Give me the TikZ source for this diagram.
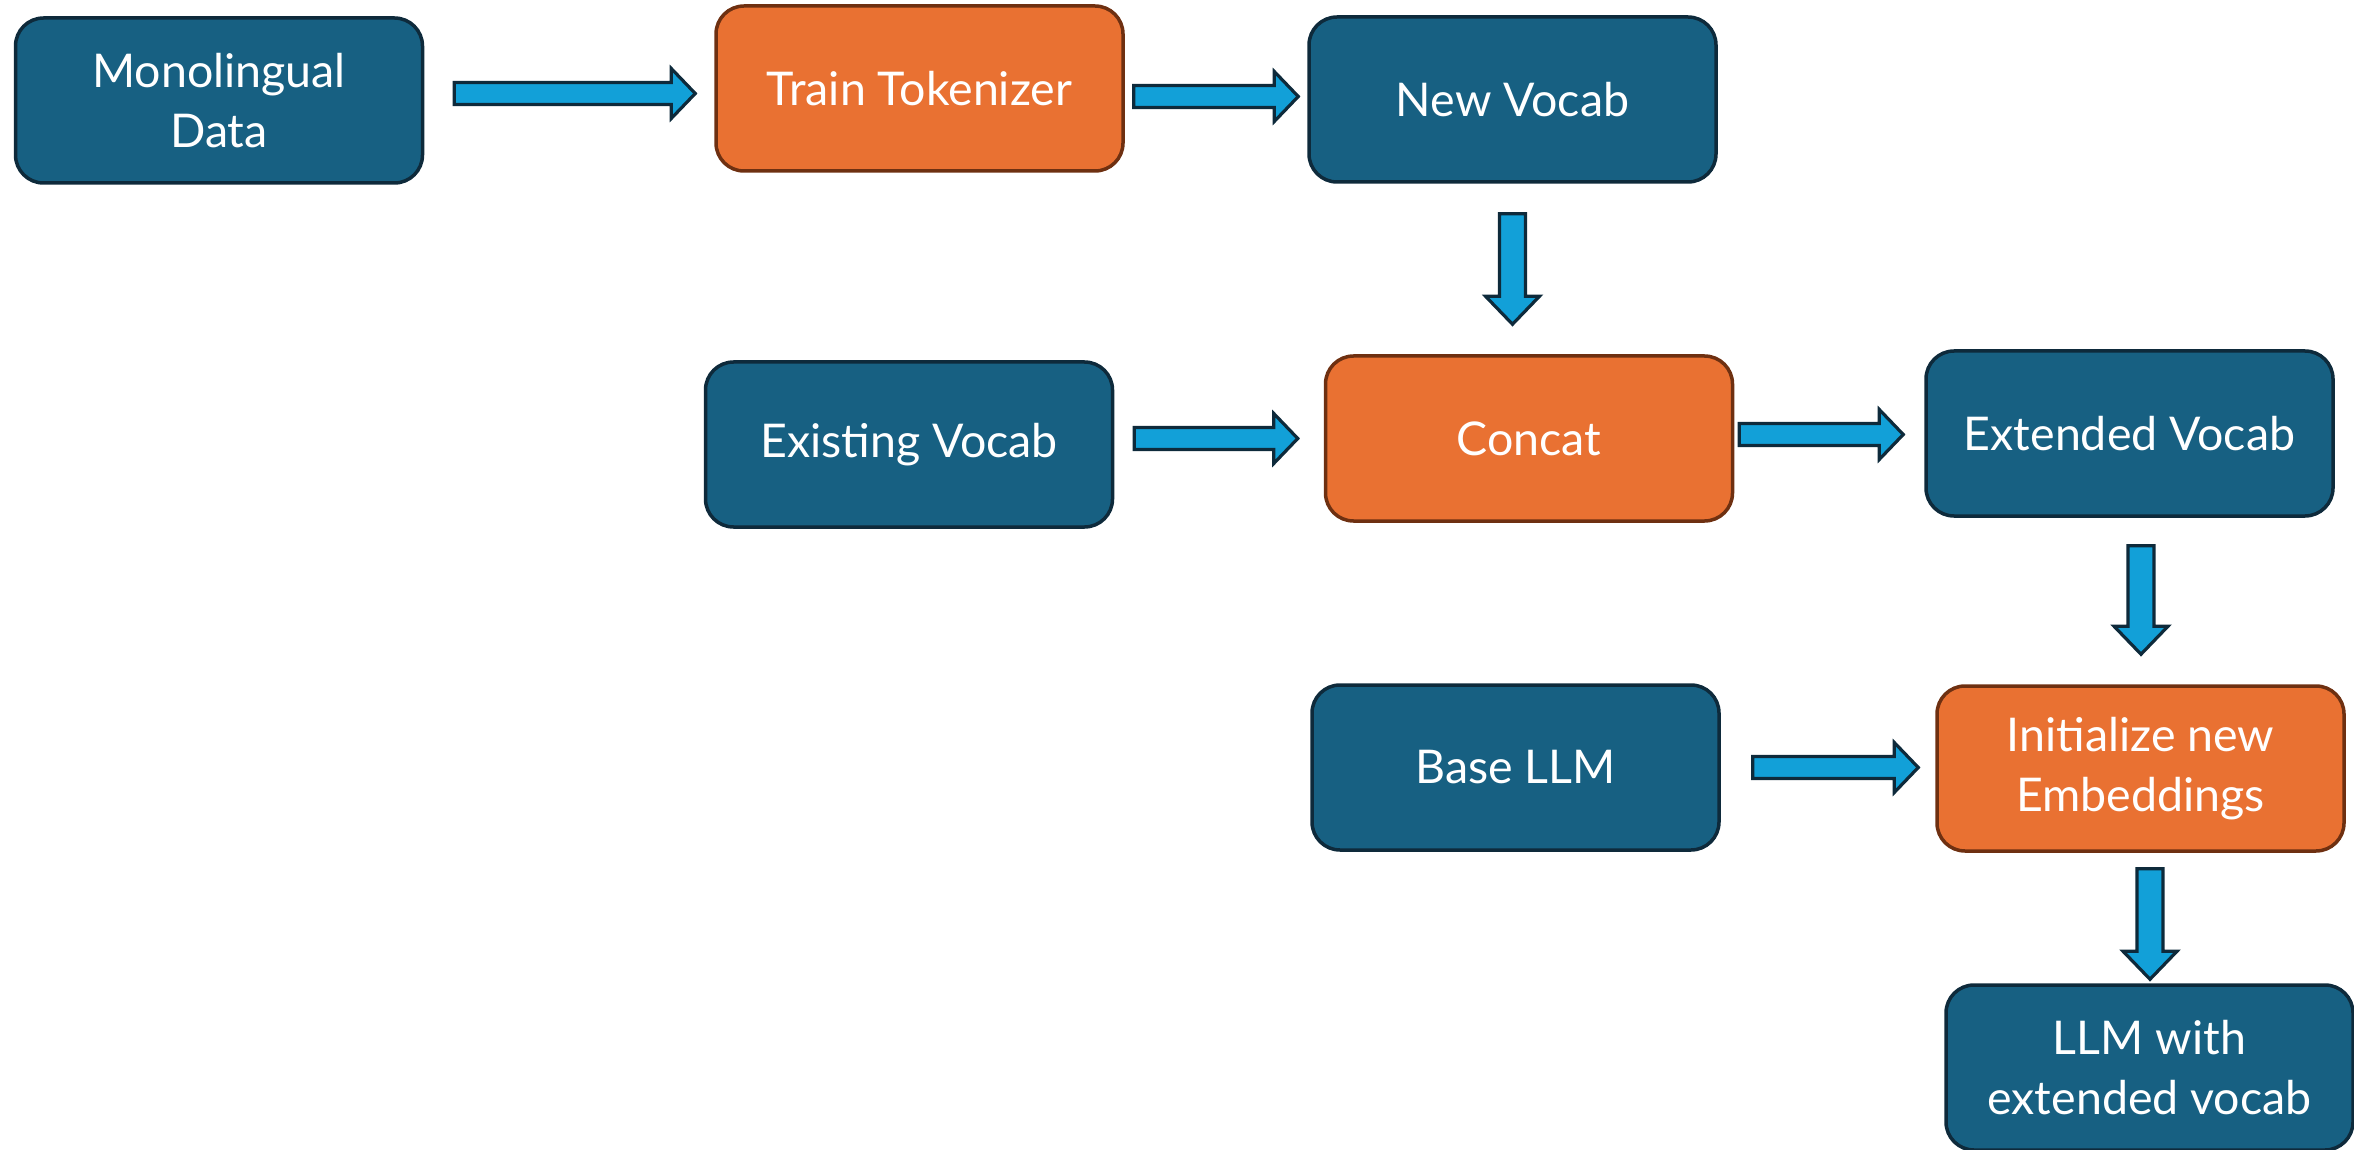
\documentclass[tikz,border=0pt]{standalone}
\usepackage{fontspec}
\setmainfont{Lato}
\usetikzlibrary{calc}

\definecolor{boxteal}{HTML}{176082}
\definecolor{boxedge}{HTML}{0E2A3B}
\definecolor{stepfill}{HTML}{E97132}
\definecolor{stepedge}{HTML}{6E3011}
\definecolor{arrowfill}{HTML}{12A0D8}

\tikzset{
  card/.style={rectangle, rounded corners=28pt, minimum width=407pt,
    minimum height=165pt, line width=3.5pt, draw=boxedge, fill=boxteal,
    text=white, align=center, inner sep=0pt,
    font=\fontsize{46.5}{60}\selectfont},
  process/.style={card, draw=stepedge, fill=stepfill},
  blockarrow/.style={draw=boxedge, fill=arrowfill, line width=3.2pt,
    line join=miter},
}

% horizontal block arrow from #1 to #2
\newcommand\harrow[2]{%
  \path[blockarrow] let \p1=(#1), \p2=(#2) in
    (\x1,\y1+11pt) -- (\x2-24pt,\y1+11pt) -- (\x2-24pt,\y1+25pt) --
    (\x2,\y1) -- (\x2-24pt,\y1-25pt) -- (\x2-24pt,\y1-11pt) --
    (\x1,\y1-11pt) -- cycle;}
% downward block arrow from #1 to #2
\newcommand\varrow[2]{%
  \path[blockarrow] let \p1=(#1), \p2=(#2) in
    (\x1-13pt,\y1) -- (\x1-13pt,\y2+28pt) -- (\x1-27pt,\y2+28pt) --
    (\x1,\y2) -- (\x1+27pt,\y2+28pt) -- (\x1+13pt,\y2+28pt) --
    (\x1+13pt,\y1) -- cycle;}

\begin{document}
\begin{tikzpicture}[x=1pt, y=-1pt]
  \useasboundingbox (0,0) rectangle (2354,1150);

  % pipeline stages
  \node[card]    (mono)   at (219,100.5)  {Monolingual\\Data};
  \node[process] (train)  at (919.5,88.5) {Train Tokenizer};
  \node[card]    (newv)   at (1512.5,99.5) {New Vocab};
  \node[card]    (exist)  at (909,444.5)  {Existing Vocab};
  \node[process] (concat) at (1529,438.5) {Concat};
  \node[card]    (ext)    at (2129.5,433.5) {Extended Vocab};
  \node[card]    (base)   at (1515.5,767.5) {Base LLM};
  \node[process] (init)   at (2140.5,768.5) {Initialize new\\Embeddings};
  \node[card]    (llm)    at (2149.5,1067.5) {LLM with\\extended vocab};

  % arrow end points in the gaps between stages
  \coordinate (a1s) at ([xshift=30pt,yshift=7pt]mono.east);
  \coordinate (a1e) at ([xshift=-19pt,yshift=-5pt]train.west);
  \coordinate (a2s) at ([xshift=9pt,yshift=-8pt]train.east);
  \coordinate (a2e) at ([xshift=-9pt,yshift=3pt]newv.west);
  \coordinate (a3s) at ([yshift=-30pt]newv.south);
  \coordinate (a3e) at ([yshift=30pt]concat.north);
  \coordinate (a4s) at ([xshift=20pt,yshift=6pt]exist.east);
  \coordinate (a4e) at ([xshift=-26pt]concat.west);
  \coordinate (a5s) at ([xshift=5pt,yshift=4pt]concat.east);
  \coordinate (a5e) at ([xshift=-21pt,yshift=-1pt]ext.west);
  \coordinate (a6s) at ([xshift=11.5pt,yshift=-28pt]ext.south);
  \coordinate (a6e) at ([yshift=30pt]init.north);
  \coordinate (a7s) at ([xshift=32pt]base.east);
  \coordinate (a7e) at ([xshift=-17pt]init.west);
  \coordinate (a8s) at ([xshift=9.5pt,yshift=-16pt]init.south);
  \coordinate (a8e) at ([yshift=4pt]llm.north);

  \harrow{a1s}{a1e}
  \harrow{a2s}{a2e}
  \varrow{a3s}{a3e}
  \harrow{a4s}{a4e}
  \harrow{a5s}{a5e}
  \varrow{a6s}{a6e}
  \harrow{a7s}{a7e}
  \varrow{a8s}{a8e}
\end{tikzpicture}
\end{document}
